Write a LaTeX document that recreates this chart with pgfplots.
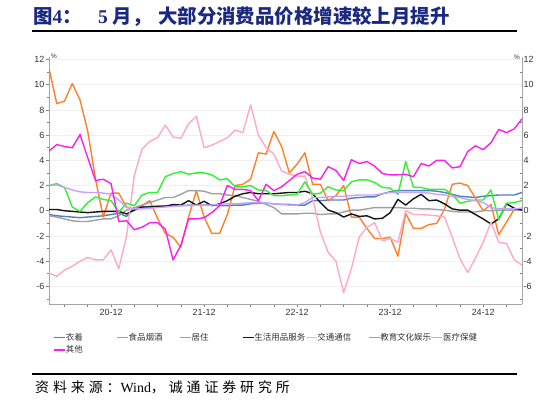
\documentclass[border=0pt]{standalone}
\usepackage{fontspec}
\setmainfont{Liberation Sans}
\newfontfamily\cjk{Noto Sans CJK SC}
\newfontfamily\cjksrc[LetterSpace=28]{Noto Sans CJK SC}
\newfontfamily\sernum{Liberation Serif}
\usepackage{pgfplots}
\pgfplotsset{compat=1.18}
\usepackage{pgfplotstable}

\definecolor{titleblue}{RGB}{26,40,128}
\definecolor{cClo}{RGB}{79,129,189}
\definecolor{cFood}{RGB}{255,128,40}
\definecolor{cHouse}{RGB}{160,160,160}
\definecolor{cDaily}{RGB}{20,20,20}
\definecolor{cTrans}{RGB}{255,168,200}
\definecolor{cEdu}{RGB}{50,240,50}
\definecolor{cHealth}{RGB}{200,160,255}
\definecolor{cOther}{RGB}{250,30,240}
\definecolor{labgray}{RGB}{50,50,50}

\pgfplotstableread{
i clo food house daily trans edu health other
0 -0.3 11.3 -0.4 0.1 -4.95 2.0 2.0 4.75
1 -0.4 8.5 -0.5 0.1 -5.2 2.15 2.05 5.25
2 -0.45 8.7 -0.65 0.0 -4.7 1.85 1.85 5.1
3 -0.5 10.1 -0.8 -0.05 -4.4 0.3 1.65 5.0
4 -0.55 8.8 -0.85 -0.1 -4.0 -0.05 1.5 6.05
5 -0.5 6.3 -0.85 -0.15 -3.7 0.65 1.45 4.2
6 -0.45 2.5 -0.75 -0.1 -3.9 1.1 1.45 2.4
7 -0.4 -0.5 -0.65 -0.05 -3.9 0.9 1.4 2.5
8 -0.3 1.4 -0.65 -0.05 -3.1 0.8 1.3 2.15
9 -0.2 1.4 -0.4 -0.05 -4.6 -0.1 0.85 -0.85
10 -0.45 0.3 0.05 -0.25 -2.0 0.6 0.25 -0.8
11 0.2 0.1 0.25 0.05 2.8 0.4 0.15 -1.5
12 0.3 0.4 0.45 0.3 4.9 1.25 0.15 -1.3
13 0.35 0.8 0.65 0.3 5.5 1.45 0.2 -0.95
14 0.35 -0.6 0.85 0.35 5.8 1.45 0.25 -0.95
15 0.4 -1.8 1.05 0.35 6.8 2.7 0.3 -1.45
16 0.4 -2.1 1.05 0.5 5.85 2.95 0.35 -3.9
17 0.4 -2.9 1.3 0.45 5.75 3.1 0.4 -2.75
18 0.45 -0.5 1.6 0.8 6.9 2.9 0.4 -0.65
19 0.45 1.6 1.6 0.45 7.5 3.0 0.45 -0.65
20 0.45 -0.5 1.55 0.75 5.0 3.0 0.45 -0.55
21 0.45 -1.8 1.35 0.4 5.2 2.85 0.45 -0.15
22 0.4 -1.8 1.35 0.55 5.5 2.45 0.5 0.4
23 0.4 -0.3 1.25 0.8 5.8 2.55 0.55 2.0
24 0.45 2.0 1.2 1.15 6.4 1.9 0.55 1.7
25 0.45 2.1 1.05 1.35 6.2 1.9 0.6 1.7
26 0.55 2.5 0.9 1.45 8.4 2.0 0.65 1.6
27 0.6 4.6 0.75 1.35 6.0 1.65 0.65 0.8
28 0.6 4.5 0.5 1.35 5.0 1.6 0.6 2.1
29 0.55 6.3 0.25 1.35 4.5 1.2 0.55 1.6
30 0.5 5.1 -0.25 1.4 3.15 1.2 0.5 1.9
31 0.5 3.0 -0.25 1.45 2.9 1.25 0.45 2.4
32 0.45 3.7 -0.25 1.45 2.75 1.3 0.45 2.9
33 0.45 4.6 -0.2 1.55 2.75 2.3 0.65 3.1
34 0.8 2.1 -0.2 1.35 1.0 1.3 1.05 2.6
35 0.8 2.1 -0.3 0.65 -1.7 1.4 1.05 2.5
36 0.85 0.8 -0.25 0.05 -3.3 1.9 1.1 3.5
37 0.85 1.2 -0.25 -0.15 -4.0 1.65 1.15 3.2
38 0.85 2.0 -0.1 -0.5 -6.5 1.6 1.15 2.4
39 1.0 -0.5 0.05 -0.25 -4.6 2.3 1.2 4.05
40 1.05 -0.5 0.05 -0.45 -2.1 2.45 1.25 3.75
41 1.1 -1.4 0.15 -0.4 -1.3 2.45 1.25 3.9
42 1.1 -2.2 0.25 -0.65 -0.95 2.25 1.25 3.55
43 1.35 -2.2 0.25 -0.6 -2.4 1.85 1.35 2.95
44 1.5 -2.1 0.25 -0.15 -2.2 1.8 1.45 2.85
45 1.6 -3.6 0.25 0.9 -2.5 1.3 1.45 2.85
46 1.6 -0.2 0.2 0.45 0.0 3.9 1.45 2.9
47 1.6 -1.4 0.2 0.95 -0.3 1.85 1.45 2.7
48 1.6 -1.4 0.15 1.3 -0.3 1.85 1.45 3.75
49 1.6 -1.1 0.15 0.8 -0.35 1.7 1.4 3.55
50 1.55 -1.0 0.1 0.85 -0.4 1.7 1.3 4.0
51 1.45 0.1 0.05 0.55 -0.5 1.7 1.25 4.0
52 1.3 2.1 -0.05 0.15 -2.1 1.3 1.15 3.4
53 1.15 2.2 -0.1 0.05 -3.8 0.6 1.05 3.5
54 1.1 2.0 -0.1 0.05 -4.9 0.75 0.9 4.7
55 1.05 1.0 -0.1 -0.3 -3.75 0.85 0.8 5.15
56 1.15 0.0 0.0 -0.65 -2.5 0.85 0.65 4.85
57 1.2 0.5 0.0 -1.05 -0.9 1.65 0.25 5.4
58 1.25 -1.9 0.05 -0.65 -2.5 -0.7 0.15 6.45
59 1.25 -0.9 0.05 0.55 -2.6 0.6 0.15 6.2
60 1.25 0.1 0.05 0.2 -3.9 0.65 0.15 6.5
61 1.45 0.2 0.05 0.05 -4.3 0.8 0.2 7.3
}\datatable

\begin{document}
\begin{tikzpicture}
\path[use as bounding box] (0bp,0bp) rectangle (547bp,-406bp);
% title
\node[anchor=base west, inner sep=0pt, text=titleblue] at (33bp,-23bp)
  {\fontsize{19.5}{20}\selectfont{\cjk\bfseries 图}{\sernum\bfseries 4}{\cjk\bfseries ：}};
\node[anchor=base west, inner sep=0pt, text=titleblue] at (98bp,-23bp)
  {\fontsize{19.5}{20}\selectfont{\sernum\bfseries 5 }{\cjk\bfseries 月，}};
\node[anchor=base west, inner sep=0pt, text=titleblue] at (158bp,-23bp)
  {\fontsize{19.5}{20}\selectfont\cjk\bfseries 大部分消费品价格增速较上月提升};
\draw[line width=1.3bp, black] (32bp,-31bp) -- (517bp,-31bp);
% source
\draw[line width=1.3bp, black] (32bp,-374bp) -- (517bp,-374bp);
\node[anchor=base west, inner sep=0pt, text=black] at (35bp,-392bp)
  {\fontsize{14}{15}\selectfont{\cjksrc 资料来源：}{\sernum Wind}{\cjksrc ，诚通证券研究所}};
% percent signs
\node[anchor=west, inner sep=0pt, font=\fontsize{6.5}{7}\selectfont, text=labgray] at (51bp,-56bp) {\%};
\node[anchor=east, inner sep=0pt, font=\fontsize{6.5}{7}\selectfont, text=labgray] at (520bp,-57bp) {\%};

\begin{axis}[
  at={(49bp,-304bp)}, anchor=south west,
  scale only axis, width=473bp, height=247bp,
  xmin=0, xmax=61, ymin=-7.4, ymax=12.2,
  axis y line*=right, axis x line=none,
  ytick={-6,-4,-2,0,2,4,6,8,10,12},
  yticklabels={-6,-4,-2,0,2,4,6,8,10,12},
  minor ytick={-7,-5,-3,-1,1,3,5,7,9,11},
  yticklabel style={font=\fontsize{9}{9}\selectfont, text=labgray, inner sep=1.5bp},
  tick align=inside, major tick length=3bp, minor tick length=2bp,
  every tick/.style={gray, line width=0.6bp},
  axis line style={gray!70, line width=0.8bp},
]
\addplot[draw=none, forget plot] coordinates {(0,0)};
\end{axis}

\begin{axis}[
  at={(49bp,-304bp)}, anchor=south west,
  scale only axis, width=473bp, height=247bp,
  xmin=0, xmax=61, ymin=-7.4, ymax=12.2,
  axis y line*=left, axis x line*=bottom,
  ytick={-6,-4,-2,0,2,4,6,8,10,12},
  yticklabels={-6,-4,-2,0,2,4,6,8,10,12},
  minor ytick={-7,-5,-3,-1,1,3,5,7,9,11},
  xtick={2,5,...,59},
  xticklabels={,,20-12,,,,21-12,,,,22-12,,,,23-12,,,,24-12,},
  yticklabel style={font=\fontsize{9}{9}\selectfont, text=labgray, inner sep=1.5bp},
  xticklabel style={font=\fontsize{9}{9}\selectfont, text=labgray, inner sep=2.5bp},
  tick align=outside, major tick length=3bp, minor tick length=2bp,
  every tick/.style={gray, line width=0.6bp},
  axis line style={gray!70, line width=0.8bp},
  ymajorgrids, grid style={gray!12, line width=0.5bp},
  every axis plot/.append style={line width=1.4bp, line join=round},
  legend columns=7,
  legend cell align=left,
  legend image code/.code={\draw[#1, line width=1.4bp] (0bp,0bp) -- (11bp,0bp);},
  legend style={at={(0.0093,-0.118)}, anchor=north west, draw=none, fill=none,
    inner sep=0pt, outer sep=0pt, row sep=4bp, column sep=0pt,
    font=\cjk\fontsize{8.5}{10}\selectfont, text=labgray,
    nodes={inner sep=0pt, outer sep=0pt}},
]
\addplot[cClo] table[x=i, y=clo] {\datatable};
\addlegendentry{\makebox[50.5bp][l]{\strut 衣着}}
\addplot[cFood] table[x=i, y=food] {\datatable};
\addlegendentry{\makebox[50.5bp][l]{\strut 食品烟酒}}
\addplot[cHouse] table[x=i, y=house] {\datatable};
\addlegendentry{\makebox[50.5bp][l]{\strut 居住}}
\addplot[cDaily] table[x=i, y=daily] {\datatable};
\addlegendentry{\makebox[50.5bp][l]{\strut 生活用品服务}}
\addplot[cTrans] table[x=i, y=trans] {\datatable};
\addlegendentry{\makebox[50.5bp][l]{\strut 交通通信}}
\addplot[cEdu] table[x=i, y=edu] {\datatable};
\addlegendentry{\makebox[50.5bp][l]{\strut 教育文化娱乐}}
\addplot[cHealth] table[x=i, y=health] {\datatable};
\addlegendentry{\makebox[50.5bp][l]{\strut 医疗保健}}
\addplot[cOther] table[x=i, y=other] {\datatable};
\addlegendentry{\makebox[50.5bp][l]{\strut 其他}}
\end{axis}
\end{tikzpicture}
\end{document}
